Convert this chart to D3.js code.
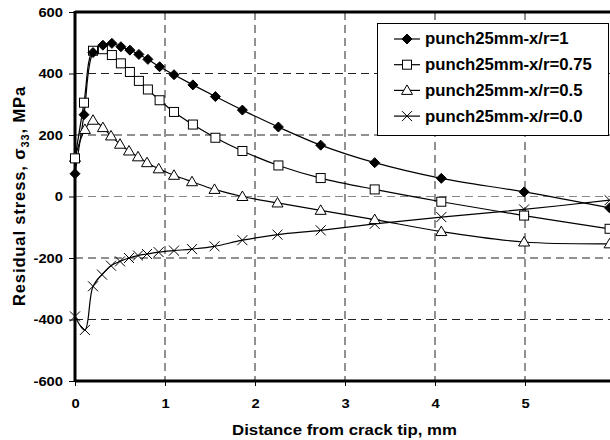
<!DOCTYPE html>
<html>
<head>
  <meta charset="utf-8">
  <script src="https://d3js.org/d3.v7.min.js"></script>
  <style>
    body { margin: 0; background: #fff; }
    svg { font-family: "Liberation Sans", Arial, sans-serif; font-weight: bold; }
  </style>
</head>
<body>
<svg id="chart" width="610" height="440"></svg>
<script>
  // values
  const seriesNames = ["punch25mm-x/r=1", "punch25mm-x/r=0.75", "punch25mm-x/r=0.5", "punch25mm-x/r=0.0"];
  const xTicks = [0, 1, 2, 3, 4, 5];
  const yTicks = [-600, -400, -200, 0, 200, 400, 600];

  const dist1 = [0, 0.1, 0.2, 0.31, 0.41, 0.51, 0.61, 0.71, 0.81, 0.94, 1.1, 1.31, 1.56, 1.86, 2.26, 2.73, 3.33, 4.07, 4.99, 5.94];
  const stress1 = [74, 266, 468, 492, 498, 487, 476, 462, 446, 422, 396, 363, 325, 281, 226, 167, 110, 59, 15, -37];

  const dist2 = [0, 0.1, 0.2, 0.31, 0.41, 0.51, 0.61, 0.71, 0.81, 0.94, 1.1, 1.31, 1.56, 1.86, 2.26, 2.73, 3.33, 4.07, 4.99, 5.94];
  const stress2 = [124, 305, 474, 479, 460, 433, 405, 376, 348, 313, 275, 234, 191, 148, 101, 60, 23, -17, -62, -105];

  const dist3 = [0, 0.11, 0.2, 0.31, 0.4, 0.5, 0.6, 0.7, 0.8, 0.93, 1.1, 1.3, 1.55, 1.86, 2.25, 2.73, 3.33, 4.07, 4.99, 5.94];
  const stress3 = [127, 218, 248, 224, 197, 170, 148, 129, 110, 90, 69, 48, 23, 0, -21, -45, -75, -114, -148, -154];

  const dist4 = [0, 0.11, 0.2, 0.3, 0.4, 0.5, 0.6, 0.7, 0.8, 0.93, 1.1, 1.3, 1.55, 1.86, 2.25, 2.73, 3.33, 4.07, 4.99, 5.94];
  const stress4 = [-390, -434, -292, -254, -225, -211, -200, -192, -187, -181, -176, -171, -162, -142, -124, -110, -89, -67, -42, -12];

  const series = [
    { name: seriesNames[0], x: dist1, y: stress1, marker: "diamond" },
    { name: seriesNames[1], x: dist2, y: stress2, marker: "square" },
    { name: seriesNames[2], x: dist3, y: stress3, marker: "triangle" },
    { name: seriesNames[3], x: dist4, y: stress4, marker: "cross" }
  ];

  const svg = d3.select("#chart");
  const plotLeft = 75, plotRight = 615, plotTop = 12, plotBottom = 381;

  const xScale = d3.scaleLinear().domain([0, 6]).range([plotLeft, plotRight]);
  const yScale = d3.scaleLinear().domain([-600, 600]).range([plotBottom, plotTop]);

  // the source picture is a bit wider than tall, so stretch text sideways around its anchor x
  function stretch(sel, k) {
    sel.each(function () {
      const ax = +this.getAttribute("x") || 0;
      d3.select(this).attr("transform", `translate(${ax},0) scale(${k},1) translate(${-ax},0)`);
    });
  }

  // dashed grid
  const grid = svg.append("g").attr("stroke-width", 1).attr("stroke-dasharray", "8,5");
  grid.selectAll("line.h").data(yTicks.filter(d => d > -600 && d < 600)).enter()
    .append("line")
    .attr("x1", plotLeft).attr("x2", plotRight)
    .attr("y1", d => yScale(d)).attr("y2", d => yScale(d))
    .attr("stroke", d => d == 0 ? "#888" : "#222");
  grid.selectAll("line.v").data(xTicks.filter(d => d > 0)).enter()
    .append("line")
    .attr("stroke", "#222")
    .attr("y1", plotTop).attr("y2", plotBottom)
    .attr("x1", d => xScale(d)).attr("x2", d => xScale(d));

  // axes (plain hyphen for negatives, like the original)
  const yAxis = svg.append("g")
    .attr("transform", `translate(${plotLeft},0)`)
    .call(d3.axisLeft(yScale).tickValues(yTicks).tickSize(6).tickPadding(6).tickFormat(d => String(d)));
  const xAxis = svg.append("g")
    .attr("transform", `translate(0,${plotBottom})`)
    .call(d3.axisBottom(xScale).tickValues(xTicks).tickSize(5).tickPadding(13).tickFormat(d => String(d)));
  [xAxis, yAxis].forEach(a => {
    a.select(".domain").remove();
    a.selectAll("text").attr("font-size", 12.5).attr("font-weight", "bold").attr("fill", "#000")
      .attr("font-family", "Liberation Sans, Arial, sans-serif");
    a.selectAll("line").attr("stroke", "#000");
    stretch(a.selectAll("text"), 1.18);
  });

  // frame
  svg.append("line").attr("x1", plotLeft).attr("x2", plotLeft).attr("y1", plotTop - 1).attr("y2", plotBottom + 1)
    .attr("stroke", "#000").attr("stroke-width", 3);
  svg.append("line").attr("x1", plotLeft).attr("x2", plotRight).attr("y1", plotTop).attr("y2", plotTop)
    .attr("stroke", "#000").attr("stroke-width", 3);
  svg.append("line").attr("x1", plotLeft).attr("x2", plotRight).attr("y1", plotBottom).attr("y2", plotBottom)
    .attr("stroke", "#000").attr("stroke-width", 3);

  // axis titles
  const xTitle = svg.append("text")
    .attr("x", 344.5).attr("y", 435)
    .attr("text-anchor", "middle")
    .attr("font-size", 15.5)
    .text("Distance from crack tip, mm");
  stretch(xTitle, 225 / xTitle.node().getComputedTextLength());

  const yTitle = svg.append("text")
    .attr("transform", "translate(25,196) rotate(-90)")
    .attr("text-anchor", "middle")
    .attr("font-size", 16.5);
  yTitle.append("tspan").text("Residual stress, σ");
  yTitle.append("tspan").attr("font-size", 11).attr("dy", 4).text("33");
  yTitle.append("tspan").attr("dy", -4).text(", MPa");
  const yLen = yTitle.node().getComputedTextLength();
  yTitle.attr("letter-spacing", ((220 - yLen) / 25).toFixed(2));

  // markers
  function drawMarker(g, type, cx, cy) {
    if (type == "diamond") {
      g.append("path").attr("d", `M${cx},${cy - 5}L${cx + 5},${cy}L${cx},${cy + 5}L${cx - 5},${cy}Z`)
        .attr("fill", "#000").attr("stroke", "#000");
    } else if (type == "square") {
      g.append("rect").attr("x", cx - 4.5).attr("y", cy - 4.5).attr("width", 9).attr("height", 9)
        .attr("fill", "#fff").attr("stroke", "#000");
    } else if (type == "triangle") {
      g.append("path").attr("d", `M${cx},${cy - 5.5}L${cx + 5.5},${cy + 4}L${cx - 5.5},${cy + 4}Z`)
        .attr("fill", "#fff").attr("stroke", "#000");
    } else {
      g.append("path").attr("d", `M${cx - 5},${cy - 5}L${cx + 5},${cy + 5}M${cx - 5},${cy + 5}L${cx + 5},${cy - 5}`)
        .attr("fill", "none").attr("stroke", "#000");
    }
  }

  const line = d3.line()
    .x(d => xScale(d[0]))
    .y(d => yScale(d[1]))
    .curve(d3.curveCatmullRom.alpha(0.5));

  const plot = svg.append("g");
  series.forEach(s => {
    const pts = s.x.map((x, i) => [x, s.y[i]]);
    plot.append("path").datum(pts).attr("d", line)
      .attr("fill", "none").attr("stroke", "#000").attr("stroke-width", 1.2);
  });
  // draw series in reverse so the first series sits on top
  series.slice().reverse().forEach(s => {
    const g = plot.append("g");
    s.x.forEach((x, i) => drawMarker(g, s.marker, xScale(x), yScale(s.y[i])));
  });

  // legend
  const legend = svg.append("g");
  legend.append("rect").attr("x", 377.5).attr("y", 23.5).attr("width", 231).attr("height", 112)
    .attr("fill", "#fff").attr("stroke", "#000");
  let legendTexts = [];
  series.forEach((s, i) => {
    const ly = 39 + i * 25.7;
    legend.append("line").attr("x1", 394).attr("x2", 420).attr("y1", ly).attr("y2", ly)
      .attr("stroke", "#000").attr("stroke-width", 1.2);
    drawMarker(legend, s.marker, 407, ly);
    legendTexts.push(legend.append("text").attr("x", 425).attr("y", ly + 5.5)
      .attr("font-size", 16).text(s.name));
  });
  const longest = d3.max(legendTexts, t => t.node().getComputedTextLength());
  legendTexts.forEach(t => stretch(t, 167 / longest));
</script>
</body>
</html>
